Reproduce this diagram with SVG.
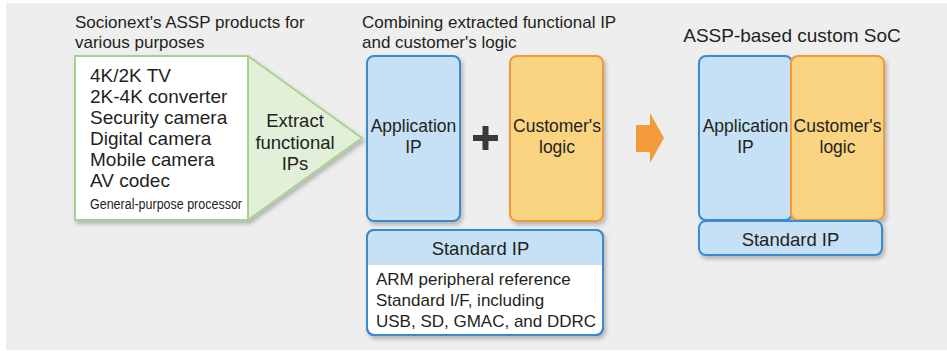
<svg xmlns="http://www.w3.org/2000/svg" width="947" height="351" viewBox="0 0 947 351">
<defs>
<filter id="sh" x="-10%" y="-10%" width="130%" height="130%">
<feDropShadow dx="2" dy="3" stdDeviation="2" flood-color="#000" flood-opacity="0.25"/>
</filter>
</defs>
<style>
text{font-family:"Liberation Sans",Arial,sans-serif;fill:#231f20;}
.t{font-size:17px;}
.l{font-size:19px;}
.b{font-size:17px;}
.c{text-anchor:middle;font-size:17.5px;}
.c2{text-anchor:middle;font-size:18.5px;}
.blue{fill:#c6e1f5;stroke:#3b8ad0;stroke-width:2;}
.org{fill:#fad481;stroke:#f19a3a;stroke-width:2;}
</style>
<rect x="6" y="3" width="941" height="347" fill="#eeeeee"/>

<g id="titles">
<text class="t" x="75" y="28">Socionext's ASSP products for</text>
<text class="t" x="75" y="48">various purposes</text>
<text class="t" x="362" y="28">Combining extracted functional IP</text>
<text class="t" x="362" y="48">and customer's logic</text>
<text x="792" y="42" text-anchor="middle" font-size="19">ASSP-based custom SoC</text>
</g>

<g id="assp">
<g filter="url(#sh)">
<rect x="75" y="56" width="173" height="164" fill="#ffffff" stroke="#a9d18e" stroke-width="2"/>
<polygon points="248,56 362,138 248,220" fill="#e2efd9" stroke="#a9d18e" stroke-width="2" stroke-linejoin="round"/>
</g>
<text class="l" x="90" y="82">4K/2K TV</text>
<text class="l" x="90" y="103">2K-4K converter</text>
<text class="l" x="90" y="124">Security camera</text>
<text class="l" x="90" y="145">Digital camera</text>
<text class="l" x="90" y="166">Mobile camera</text>
<text class="l" x="90" y="187">AV codec</text>
<text x="90" y="208.5" font-size="14" textLength="152" lengthAdjust="spacingAndGlyphs">General-purpose processor</text>
<text class="c2" x="295" y="127">Extract</text>
<text class="c2" x="295" y="148.5">functional</text>
<text class="c2" x="295" y="170">IPs</text>
</g>

<g id="app-ip">
<rect class="blue" x="367" y="56" width="93" height="165" rx="7" filter="url(#sh)"/>
<text class="c" x="413.5" y="132">Application</text>
<text class="c" x="413.5" y="153">IP</text>
</g>

<g id="plus">
<rect x="473" y="135" width="25" height="6" fill="#3a3a3a"/>
<rect x="482.5" y="126" width="6" height="24" fill="#3a3a3a"/>
</g>

<g id="customer-logic">
<rect class="org" x="510" y="56" width="93" height="165" rx="7" filter="url(#sh)"/>
<text class="c" x="557" y="132">Customer's</text>
<text class="c" x="557" y="153">logic</text>
</g>

<g id="standard-ip">
<g filter="url(#sh)">
<rect x="367" y="230" width="236" height="105" rx="7" fill="#ffffff" stroke="#3b8ad0" stroke-width="2"/>
</g>
<path d="M368,265 V237 A6,6 0 0 1 374,231 H596 A6,6 0 0 1 602,237 V265 Z" fill="#c6e1f5"/>
<rect x="367" y="230" width="236" height="105" rx="7" fill="none" stroke="#3b8ad0" stroke-width="2"/>
<text class="c2" x="480.5" y="255">Standard IP</text>
<text class="b" x="376" y="285">ARM peripheral reference</text>
<text class="b" x="376" y="306">Standard I/F, including</text>
<text class="b" x="376" y="327">USB, SD, GMAC, and DDRC</text>
</g>

<g id="connectors">
<polygon points="636,125 650,125 650,113 664,138 650,163 650,152 636,152" fill="#f39a3b"/>
</g>

<g id="soc">
<g filter="url(#sh)">
<rect class="blue" x="699" y="56" width="93" height="164" rx="7"/>
<rect class="org" x="791" y="56" width="93" height="164" rx="7"/>
<rect class="blue" x="699" y="221" width="183" height="34" rx="7"/>
</g>
<text class="c" x="745.5" y="132">Application</text>
<text class="c" x="745.5" y="153">IP</text>
<text class="c" x="837.5" y="132">Customer's</text>
<text class="c" x="837.5" y="153">logic</text>
<text class="c2" x="790.5" y="246">Standard IP</text>
</g>
</svg>
